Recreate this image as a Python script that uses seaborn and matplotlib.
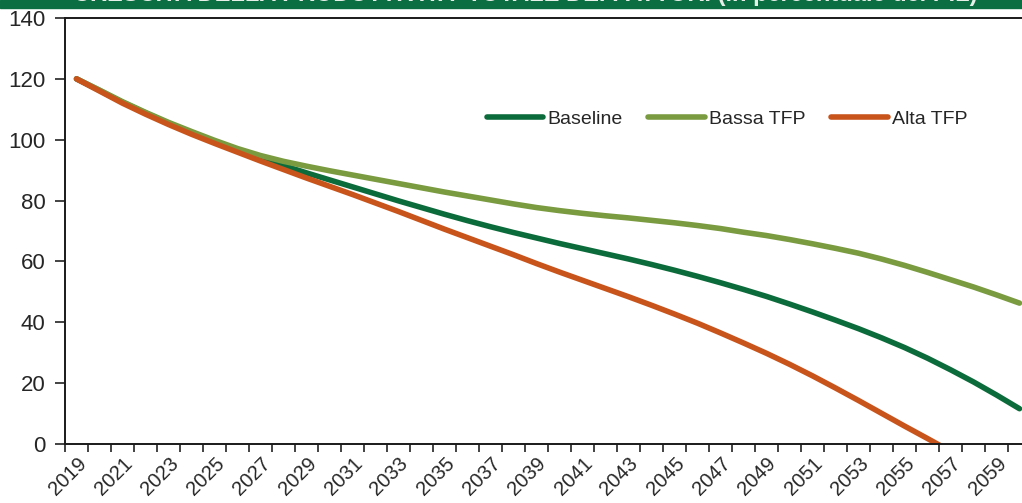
import matplotlib
matplotlib.use("Agg")
import matplotlib.pyplot as plt
from matplotlib.patches import Rectangle
from matplotlib.ticker import FixedLocator, MultipleLocator
import numpy as np
import pandas as pd
import seaborn as sns

# Debito pubblico in rapporto al PIL nei tre scenari di crescita della TFP
years = list(range(2019, 2061))

baseline = [120.0, 116.2, 112.3, 108.8, 105.4, 102.3, 99.4, 96.6, 94.0, 91.5,
            89.1, 86.8, 84.5, 82.2, 79.9, 77.7, 75.5, 73.4, 71.4, 69.5,
            67.7, 65.9, 64.2, 62.5, 60.8, 59.0, 57.1, 55.1, 53.0, 50.8,
            48.5, 46.0, 43.4, 40.7, 37.9, 34.9, 31.7, 28.2, 24.4, 20.4,
            16.1, 11.6]

bassa_tfp = [120.0, 116.3, 112.5, 109.0, 105.7, 102.7, 99.8, 97.1, 94.8, 92.9,
             91.3, 89.8, 88.4, 87.0, 85.6, 84.2, 82.8, 81.5, 80.2, 78.9,
             77.7, 76.7, 75.8, 75.0, 74.3, 73.5, 72.7, 71.8, 70.8, 69.6,
             68.5, 67.2, 65.8, 64.3, 62.7, 60.8, 58.7, 56.4, 54.0, 51.6,
             49.0, 46.3]

alta_tfp = [120.0, 116.0, 112.0, 108.4, 105.0, 101.8, 98.8, 95.9, 93.0, 90.2,
            87.4, 84.7, 82.0, 79.2, 76.4, 73.5, 70.6, 67.8, 65.0, 62.2,
            59.3, 56.5, 53.8, 51.1, 48.4, 45.6, 42.7, 39.7, 36.5, 33.2,
            29.8, 26.2, 22.4, 18.4, 14.3, 10.1, 5.9, 1.8, -2.4]

series_names = ["Baseline", "Bassa TFP", "Alta TFP"]
colors = ["#0c6b3b", "#7a9b40", "#c9541b"]

title_text = "CRESCITA DELLA PRODUTTIVITA' TOTALE DEI FATTORI (in percentuale del PIL)"

frames = []
for name, values in zip(series_names, [baseline, bassa_tfp, alta_tfp]):
    frames.append(pd.DataFrame({"anno": years[:len(values)],
                                "valore": values,
                                "scenario": name}))
df = pd.concat(frames, ignore_index=True)

sns.set_style("ticks")
plt.rcParams["font.family"] = ["Liberation Sans", "DejaVu Sans"]

W, H = 1022, 503
fig = plt.figure(figsize=(W / 100, H / 100), dpi=100)

# green banner strip at the very top (title mostly cut off)
fig.patches.append(Rectangle((0, 1 - 7.5 / H), 1, 7.5 / H,
                             transform=fig.transFigure, color="#0b6e42",
                             zorder=0))
fig.text(977 / W, 1 - 6 / H, title_text, ha="right", va="bottom",
         color="#e6efe8", fontsize=17, fontweight="bold")

left, right = 65 / W, 1031 / W
bottom, top = (H - 444) / H, (H - 18) / H
ax = fig.add_axes([left, bottom, right - left, top - bottom])

sns.lineplot(data=df, x="anno", y="valore", hue="scenario",
             hue_order=series_names, palette=colors, linewidth=4.0,
             ax=ax, legend=True)
for line in ax.lines:
    line.set_solid_capstyle("round")

ax.set_xlim(2018.5, 2060.5)
ax.set_ylim(0, 140)
ax.yaxis.set_major_locator(MultipleLocator(20))
ax.set_xlabel("")
ax.set_ylabel("")

label_years = years[::2]
ax.xaxis.set_major_locator(FixedLocator(label_years))
ax.set_xticklabels([str(y) for y in label_years], rotation=45,
                   ha="right", rotation_mode="anchor", fontsize=14.5)
ax.xaxis.set_minor_locator(FixedLocator([y - 0.5 for y in years] + [years[-1] + 0.5]))
ax.tick_params(axis="x", which="major", length=0, pad=7)
ax.tick_params(axis="x", which="minor", length=6, width=1.2, color="#222222",
               direction="out")
ax.tick_params(axis="y", which="major", length=7, width=1.2, color="#222222",
               labelsize=16, pad=7)

for side in ["left", "bottom", "top"]:
    ax.spines[side].set_visible(True)
    ax.spines[side].set_color("#1a1a1a")
    ax.spines[side].set_linewidth(1.4)
ax.spines["right"].set_visible(False)

handles, labels = ax.get_legend_handles_labels()
ax.legend(handles, labels, ncol=3, frameon=False, fontsize=14,
          loc="center left", bbox_to_anchor=(0.4365, 0.762),
          handlelength=2.9, handletextpad=0.2, columnspacing=1.35,
          borderaxespad=0, borderpad=0)

fig.savefig("out.png", dpi=100)
